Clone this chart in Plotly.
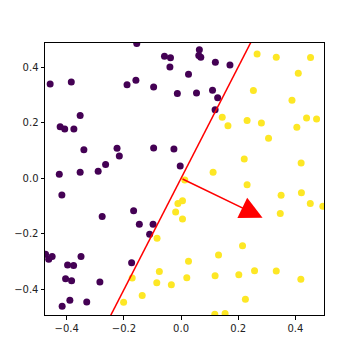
import plotly.graph_objects as go
import numpy as np

purple_x = [-0.458, -0.155, -0.058, -0.037, -0.039, -0.384, -0.189, -0.158, -0.096, -0.013,
            -0.353, -0.423, -0.407, -0.375, -0.340, -0.224, -0.216, -0.096, -0.025, -0.426,
            -0.353, -0.290, -0.264, -0.003, 0.064, 0.062, 0.069, 0.120, 0.171, 0.026,
            0.054, 0.110, 0.128, 0.119, -0.417, -0.276, -0.166, -0.146, -0.098, -0.110,
            -0.474, -0.463, -0.451, -0.350, -0.397, -0.376, -0.173, -0.404, -0.383, -0.284,
            -0.389, -0.330, -0.416]
purple_y = [0.340, 0.486, 0.440, 0.434, 0.401, 0.347, 0.337, 0.353, 0.329, 0.306,
            0.226, 0.186, 0.178, 0.178, 0.103, 0.108, 0.080, 0.109, 0.106, 0.015,
            0.022, 0.025, 0.050, 0.044, 0.463, 0.443, 0.436, 0.418, 0.408, 0.375,
            0.307, 0.317, 0.290, 0.247, -0.060, -0.138, -0.117, -0.166, -0.166, -0.202,
            -0.274, -0.292, -0.282, -0.282, -0.312, -0.314, -0.304, -0.362, -0.369, -0.374,
            -0.439, -0.446, -0.461]

yellow_x = [0.266, 0.333, 0.453, 0.410, 0.253, 0.388, 0.144, 0.164, 0.231, 0.281,
            0.439, 0.474, 0.405, 0.306, 0.221, 0.420, 0.112, 0.231, 0.013, 0.350,
            0.421, 0.452, 0.496, 0.347, -0.011, 0.005, -0.019, 0.005, 0.215, 0.131,
            0.026, 0.020, 0.119, 0.202, 0.257, 0.333, 0.419, 0.225, 0.118, 0.154,
            -0.034, -0.084, -0.171, -0.076, -0.085, -0.136, -0.201]
yellow_y = [0.448, 0.436, 0.435, 0.379, 0.316, 0.281, 0.220, 0.189, 0.208, 0.199,
            0.217, 0.214, 0.184, 0.144, 0.070, 0.055, 0.022, -0.023, -0.006, -0.061,
            -0.052, -0.091, -0.101, -0.127, -0.091, -0.081, -0.121, -0.147, -0.243, -0.276,
            -0.299, -0.358, -0.351, -0.348, -0.333, -0.334, -0.364, -0.436, -0.490, -0.487,
            -0.384, -0.216, -0.359, -0.336, -0.376, -0.422, -0.447]

weight = [0.285, -0.142]
x_range = [-0.476, 0.5]
y_range = [-0.4926, 0.4876]
tick_vals = [-0.4, -0.2, 0.0, 0.2, 0.4]
tick_text = ["\u22120.4", "\u22120.2", "0.0", "0.2", "0.4"]

fig = go.Figure()
marker_common = dict(size=7, line=dict(width=0))
fig.add_trace(go.Scatter(x=purple_x, y=purple_y, mode="markers",
                         marker=dict(color="#440154", **marker_common)))
fig.add_trace(go.Scatter(x=yellow_x, y=yellow_y, mode="markers",
                         marker=dict(color="#fde725", **marker_common)))

# decision boundary perpendicular to weight vector through origin
lx = np.array([-0.6, 0.6])
ly = -weight[0] / weight[1] * lx
fig.add_trace(go.Scatter(x=lx, y=ly, mode="lines", line=dict(color="red", width=1.5)))

fig.add_annotation(x=weight[0], y=weight[1], ax=0, ay=0, xref="x", yref="y",
                   axref="x", ayref="y", showarrow=True, arrowhead=2,
                   arrowsize=3, arrowwidth=1.5, arrowcolor="red", text="")

axis_common = dict(showgrid=False, zeroline=False, showline=True, linecolor="black",
                   linewidth=1, mirror=True, ticks="outside", ticklen=3.5,
                   tickcolor="black", tickvals=tick_vals, ticktext=tick_text,
                   automargin=False,
                   tickfont=dict(family="DejaVu Sans", size=10, color="#222"))
fig.update_xaxes(range=x_range, **axis_common)
fig.update_yaxes(range=y_range, **axis_common)
fig.update_layout(width=360, height=360, showlegend=False,
                  margin=dict(l=45, r=36, t=43, b=45),
                  plot_bgcolor="white", paper_bgcolor="white")
fig.write_html("out.html", config={"displayModeBar": False},
               post_script="document.body.style.margin='0';document.body.style.padding='0';")
